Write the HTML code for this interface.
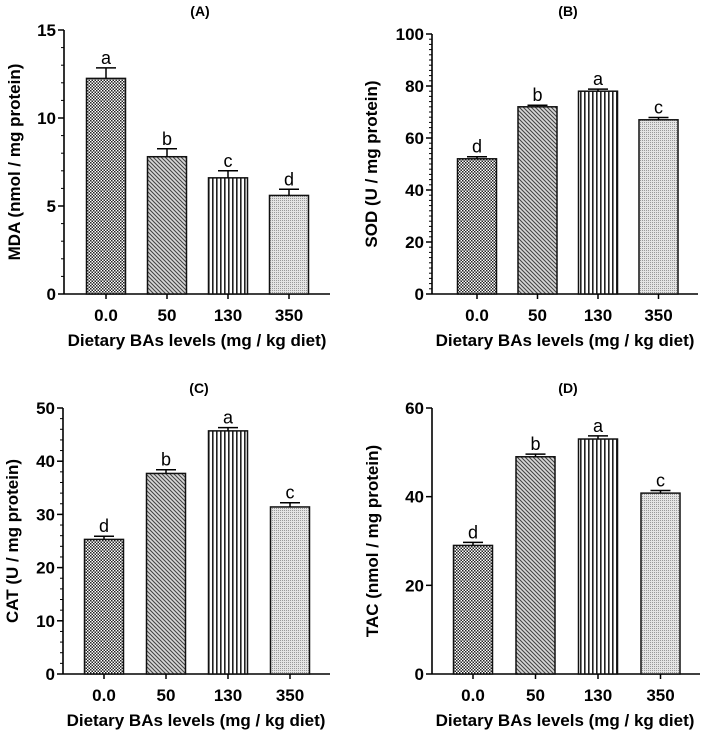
<!DOCTYPE html>
<html><head><meta charset="utf-8"><style>
body{margin:0;background:#fff;}
svg{display:block;font-family:"Liberation Sans",Arial,sans-serif;}
</style></head><body>
<svg id="fig" width="705" height="732" viewBox="0 0 705 732">
<defs>
<pattern id="p0" width="3" height="3" patternUnits="userSpaceOnUse"><rect width="3" height="3" fill="#fff"/><rect width="1.5" height="1.5" fill="#222"/><rect x="1.5" y="1.5" width="1.5" height="1.5" fill="#222"/></pattern>
<pattern id="p1" width="4" height="4" patternUnits="userSpaceOnUse"><rect width="4" height="4" fill="#d8d8d8"/><path d="M-1,-1 L5,5 M-1,3 L1,5 M3,-1 L5,1" stroke="#444" stroke-width="1.1"/></pattern>
<pattern id="p2" width="4" height="4" patternUnits="userSpaceOnUse"><rect width="4" height="4" fill="#fff"/><rect x="0" width="1.6" height="4" fill="#222"/></pattern>
<pattern id="p3" width="2" height="2" patternUnits="userSpaceOnUse"><rect width="2" height="2" fill="#e4e4e4"/><rect width="1" height="1" fill="#999"/></pattern>
</defs>
</svg>
<script>
const categories = ["0.0","50","130","350"];
const letters = {A:["a","b","c","d"], B:["d","b","a","c"], C:["d","b","a","c"], D:["d","b","a","c"]};
const valuesA = [12.25, 7.8, 6.6, 5.6];
const errorsA = [0.6, 0.45, 0.4, 0.35];
const valuesB = [52, 72, 78, 67];
const errorsB = [0.8, 0.6, 0.8, 0.9];
const valuesC = [25.3, 37.7, 45.7, 31.4];
const errorsC = [0.6, 0.7, 0.6, 0.8];
const valuesD = [29, 49, 53, 40.8];
const errorsD = [0.7, 0.6, 0.7, 0.6];
const ticksA = [0,5,10,15];
const ticksB = [0,20,40,60,80,100];
const ticksC = [0,10,20,30,40,50];
const ticksD = [0,20,40,60];

const svg = document.getElementById('fig');
const NS = 'http://www.w3.org/2000/svg';
function mk(tag, attrs, parent, text){
  const e = document.createElementNS(NS, tag);
  for (const k in attrs) e.setAttribute(k, attrs[k]);
  if (text !== undefined) e.textContent = text;
  (parent || svg).appendChild(e);
  return e;
}
function panel(cfg){
  const g = mk('g', {});
  
  
  const y = v => cfg.y0 - (v / cfg.max) * (cfg.y0 - cfg.top);
  const x = i => cfg.x0 + cfg.first + i * cfg.step;
  const t = mk('text', {x: cfg.x0 + 136, y: cfg.titleY, 'font-size': 14, 'font-weight': 'bold', 'text-anchor': 'middle'}, g, '(' + cfg.id + ')');
  
  
  if (cfg.minor) for (let v = 0; v <= cfg.max + 1e-9; v += cfg.minor) {
    mk('line', {x1: cfg.x0 - 3, x2: cfg.x0, y1: y(v), y2: y(v), stroke: '#000', 'stroke-width': 1}, g);
  }
  cfg.ticks.forEach(v => {
    mk('line', {x1: cfg.x0 - 6, x2: cfg.x0, y1: y(v), y2: y(v), stroke: '#000', 'stroke-width': 1.5}, g);
    const tl = mk('text', {x: cfg.x0 - 8, y: y(v) + 6, 'font-size': 17, 'font-weight': 'bold', 'text-anchor': 'end'}, g, v);
    
    
  });
  const ya = mk('line', {x1: cfg.x0, x2: cfg.x0, y1: cfg.top, y2: cfg.y0, stroke: '#000', 'stroke-width': 1.6}, g);
  
  
  const xa = mk('line', {x1: cfg.x0, x2: cfg.xEnd, y1: cfg.y0, y2: cfg.y0, stroke: '#000', 'stroke-width': 1.6}, g);
  
  
  cfg.values.forEach((v, i) => {
    const bx = x(i), w = 39;
    const b = mk('rect', {x: bx - w/2, y: y(v), width: w, height: cfg.y0 - y(v), fill: 'url(#p' + i + ')', stroke: '#111', 'stroke-width': 1.5}, g);
    
    
    const ey = y(v + cfg.errors[i]);
    mk('line', {x1: bx, x2: bx, y1: y(v), y2: ey, stroke: '#000', 'stroke-width': 1.5}, g);
    mk('line', {x1: bx - 10, x2: bx + 10, y1: ey, y2: ey, stroke: '#000', 'stroke-width': 1.5}, g);
    const lt = mk('text', {x: bx, y: ey - 4, 'font-size': 18, 'text-anchor': 'middle'}, g, cfg.letters[i]);
    
    
    mk('line', {x1: bx, x2: bx, y1: cfg.y0, y2: cfg.y0 + 5, stroke: '#000', 'stroke-width': 1.5}, g);
    const xl = mk('text', {x: bx, y: cfg.y0 + 27, 'font-size': 17, 'font-weight': 'bold', 'text-anchor': 'middle'}, g, categories[i]);
    
    
  });
  const xt = mk('text', {x: cfg.x0 + 133, y: cfg.y0 + 52, 'font-size': 17, 'font-weight': 'bold', 'text-anchor': 'middle'}, g, 'Dietary BAs levels (mg / kg diet)');
  
  
  const cy = (cfg.top + cfg.y0) / 2;
  const yt = mk('text', {x: cfg.yTitleX, y: cy, 'font-size': 17, 'font-weight': 'bold', 'text-anchor': 'middle', transform: 'rotate(-90 ' + cfg.yTitleX + ' ' + cy + ')'}, g, cfg.yTitle);
  
  
}
panel({id:'A', titleY:16, x0:64, top:30, y0:294, xEnd:330, first:42, step:61, max:15, minor:1, ticks:ticksA, values:valuesA, errors:errorsA, letters:letters.A, yTitle:'MDA (nmol / mg protein)', yTitleX:20});
panel({id:'B', titleY:16, x0:432, top:34, y0:294, xEnd:698, first:45, step:60.5, max:100, minor:2, ticks:ticksB, values:valuesB, errors:errorsB, letters:letters.B, yTitle:'SOD (U / mg protein)', yTitleX:377});
panel({id:'C', titleY:393, x0:63, top:408, y0:674, xEnd:330, first:41, step:62, max:50, minor:2, ticks:ticksC, values:valuesC, errors:errorsC, letters:letters.C, yTitle:'CAT (U / mg protein)', yTitleX:18});
panel({id:'D', titleY:393, x0:432, top:408, y0:674, xEnd:700, first:41, step:62.5, max:60, minor:0, ticks:ticksD, values:valuesD, errors:errorsD, letters:letters.D, yTitle:'TAC (nmol / mg protein)', yTitleX:378});
</script>
</body></html>
